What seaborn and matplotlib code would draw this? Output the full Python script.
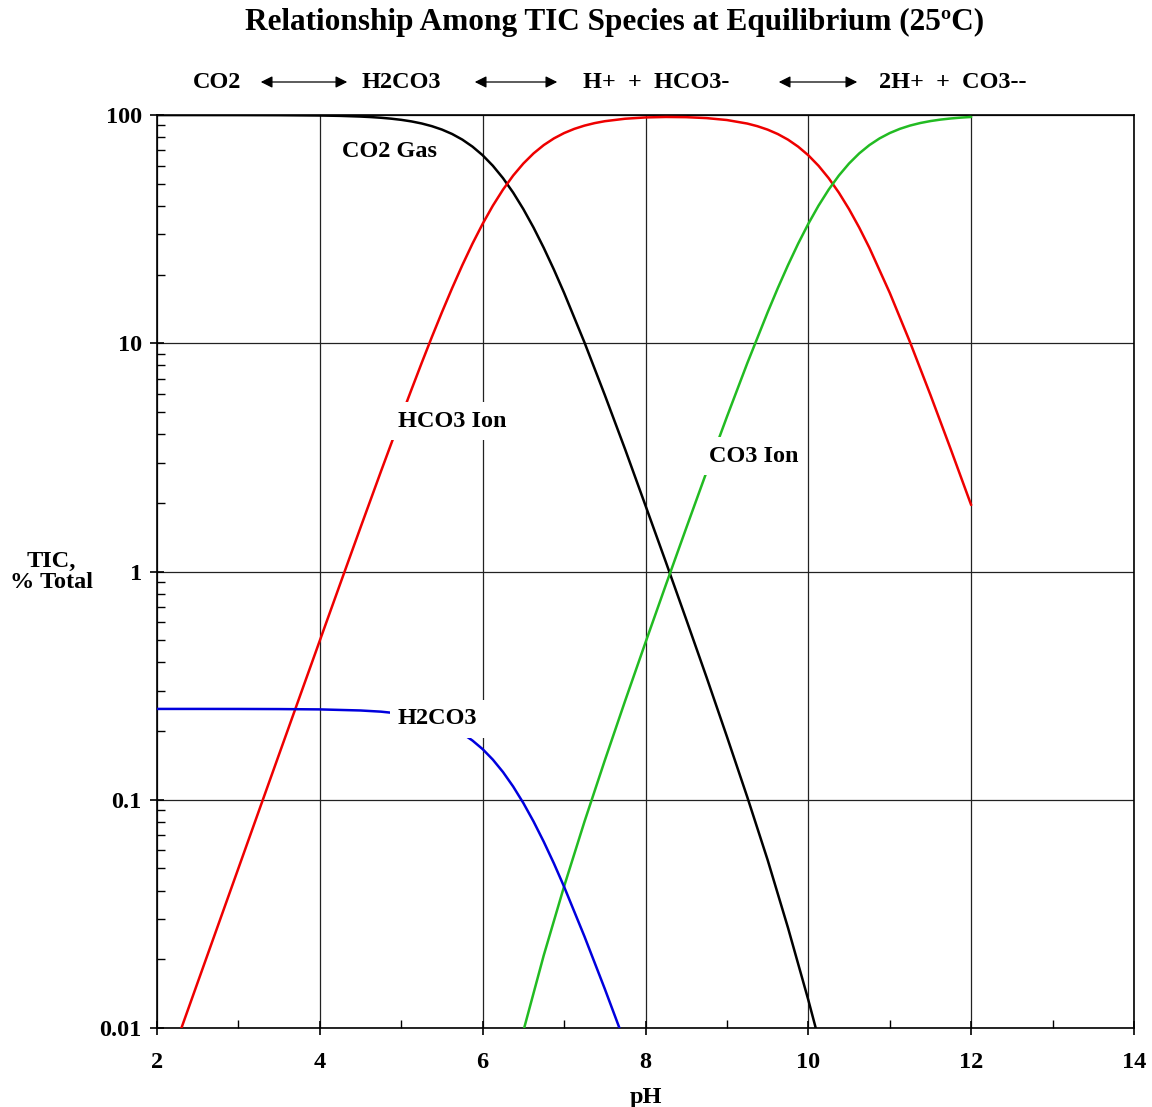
import numpy as np
import pandas as pd
import matplotlib
matplotlib.use("Agg")
import matplotlib.pyplot as plt
import matplotlib.ticker as mticker
import seaborn as sns

# ---- data ----
ph_co2 = [2.0, 2.5, 3.0, 3.5, 4.0, 4.25, 4.5, 4.625, 4.75, 4.875, 5.0, 5.125, 5.25,
          5.375, 5.5, 5.625, 5.75, 5.875, 6.0, 6.125, 6.25, 6.375, 6.5, 6.625,
          6.75, 6.875, 7.0, 7.25, 7.5, 7.75, 8.0, 8.25, 8.5, 8.75, 9.0, 9.25, 9.5,
          9.75, 10.0, 10.1]
co2_gas = [99.99, 99.98, 99.95, 99.84, 99.5, 99.12, 98.44, 97.93, 97.26, 96.38,
           95.23, 93.74, 91.82, 89.37, 86.32, 82.56, 78.02, 72.68, 66.62, 59.94,
           52.88, 45.69, 38.68, 32.12, 26.19, 21.02, 16.63, 10.09, 5.934, 3.428,
           1.944, 1.100, 0.617, 0.344, 0.1891, 0.1028, 0.0545, 0.0275, 0.01326,
           0.00972]

ph_hco3 = [2.25, 2.5, 2.75, 3.0, 3.25, 3.5, 3.75, 4.0, 4.25, 4.5, 4.75, 5.0, 5.125,
           5.25, 5.375, 5.5, 5.625, 5.75, 5.875, 6.0, 6.125, 6.25, 6.375, 6.5,
           6.625, 6.75, 6.875, 7.0, 7.125, 7.25, 7.375, 7.5, 7.75, 8.0, 8.25, 8.5,
           8.75, 9.0, 9.25, 9.375, 9.5, 9.625, 9.75, 9.875, 10.0, 10.125, 10.25,
           10.375, 10.5, 10.625, 10.75, 11.0, 11.25, 11.5, 11.75, 12.0]
hco3_ion = [0.00891, 0.01585, 0.02818, 0.0501, 0.0891, 0.1583, 0.281, 0.4985,
            0.8831, 1.56, 2.741, 4.771, 6.26, 8.182, 10.63, 13.68, 17.44, 21.98,
            27.32, 33.38, 40.06, 47.12, 54.31, 61.31, 67.88, 73.81, 78.96, 83.33,
            86.93, 89.84, 92.14, 93.93, 96.31, 97.57, 98.03, 97.83, 96.92, 95.05,
            91.72, 89.31, 86.28, 82.52, 78.0, 72.66, 66.6, 59.93, 52.87, 45.69,
            38.69, 32.12, 26.19, 16.63, 10.09, 5.935, 3.427, 1.956]

ph_co3 = [6.5, 6.75, 7.0, 7.25, 7.5, 7.75, 8.0, 8.25, 8.5, 8.75, 9.0, 9.25, 9.5,
          9.625, 9.75, 9.875, 10.0, 10.125, 10.25, 10.375, 10.5, 10.625, 10.75,
          10.875, 11.0, 11.125, 11.25, 11.375, 11.5, 11.625, 11.75, 11.875, 12.0]
co3_ion = [0.00971, 0.0208, 0.0417, 0.0801, 0.1487, 0.2714, 0.4888, 0.8736, 1.549,
           2.731, 4.762, 8.174, 13.66, 17.44, 21.98, 27.32, 33.38, 40.06, 47.12,
           54.3, 61.31, 67.88, 73.81, 78.98, 83.36, 86.98, 89.91, 92.24, 94.06,
           95.48, 96.57, 97.41, 98.04]

ph_h2co3 = [2.0, 2.5, 3.0, 3.5, 4.0, 4.5, 4.75, 5.0, 5.125, 5.25, 5.375, 5.5,
            5.625, 5.75, 5.875, 6.0, 6.125, 6.25, 6.375, 6.5, 6.625, 6.75, 6.875,
            7.0, 7.25, 7.5, 7.75]
h2co3 = [0.25, 0.25, 0.2499, 0.2496, 0.2488, 0.2461, 0.2432, 0.2381, 0.2344,
         0.2296, 0.2234, 0.2158, 0.2064, 0.1951, 0.1817, 0.1666, 0.1499, 0.1322,
         0.1142, 0.0967, 0.0803, 0.0655, 0.0526, 0.0416, 0.0252, 0.01484, 0.00857]

series_names = ["CO2 Gas", "HCO3 Ion", "CO3 Ion", "H2CO3"]
series_colors = ["#000000", "#ee0000", "#22bb22", "#0000dd"]

x_ticks = [2, 4, 6, 8, 10, 12, 14]
y_ticks = [0.01, 0.1, 1, 10, 100]
y_tick_labels = ["0.01", "0.1", "1", "10", "100"]

frames = []
for name, xs, ys in zip(series_names,
                        [ph_co2, ph_hco3, ph_co3, ph_h2co3],
                        [co2_gas, hco3_ion, co3_ion, h2co3]):
    frames.append(pd.DataFrame({"pH": xs, "TIC": ys, "species": name}))
df = pd.concat(frames, ignore_index=True)

# ---- style ----
sns.set_style("ticks")
plt.rcParams["font.family"] = ["Liberation Serif", "DejaVu Serif"]
plt.rcParams["font.weight"] = "bold"
plt.rcParams["text.color"] = "black"
plt.rcParams["axes.labelcolor"] = "black"
plt.rcParams["xtick.color"] = "black"
plt.rcParams["ytick.color"] = "black"

FS = 17.5
W, H = 1152, 1107
fig = plt.figure(figsize=(W / 100, H / 100), dpi=100)
ax = fig.add_axes([157 / W, 1 - 1028 / H, (1134 - 157) / W, (1028 - 115) / H])

sns.lineplot(data=df, x="pH", y="TIC", hue="species", hue_order=series_names,
             palette=dict(zip(series_names, series_colors)), linewidth=1.8,
             estimator=None, sort=False, legend=False, ax=ax, zorder=3)

ax.set_yscale("log")
ax.set_xlim(2, 14)
ax.set_ylim(0.01, 100)
ax.set_xticks(x_ticks)
ax.set_xticklabels([str(t) for t in x_ticks])
ax.xaxis.set_minor_locator(mticker.FixedLocator([3, 5, 7, 9, 11, 13]))
ax.yaxis.set_major_locator(mticker.FixedLocator(y_ticks))
ax.yaxis.set_major_formatter(mticker.FixedFormatter(y_tick_labels))
ax.yaxis.set_minor_locator(mticker.LogLocator(base=10, subs=np.arange(2, 10)))
ax.yaxis.set_minor_formatter(mticker.NullFormatter())

ax.tick_params(axis="both", which="major", direction="inout", length=10, width=1.2,
               labelsize=FS, pad=6, colors="black")
ax.tick_params(axis="x", which="major", pad=12)
ax.tick_params(axis="both", which="minor", direction="in", length=6, width=1.0,
               colors="black")
for lab in ax.get_xticklabels() + ax.get_yticklabels():
    lab.set_fontweight("bold")

ax.grid(True, which="major", color="#222222", linewidth=0.9)
for s in ax.spines.values():
    s.set_visible(True)
    s.set_color("black")
    s.set_linewidth(1.2)

ax.set_xlabel("pH", fontsize=FS, fontweight="bold", labelpad=10, color="black")
ax.set_ylabel("")
fig.text(51 / W, 1 - 572 / H, "TIC,\n% Total", ha="center", va="center",
         fontsize=FS, fontweight="bold", linespacing=0.95, color="black")

# curve labels
def lbl(x, y, s, pad):
    ax.text(x, y, s, fontsize=FS, fontweight="bold", ha="left", va="center",
            color="black",
            bbox=dict(facecolor="white", edgecolor="none", pad=pad), zorder=5)

lbl(4.27, 69.5, "CO2 Gas", 2.5)
lbl(4.96, 4.56, "HCO3 Ion", 6)
lbl(8.78, 3.2, "CO3 Ion", 6)
lbl(4.96, 0.226, "H2CO3", 6)

# title and reaction line
fig.text(615 / W, 1 - 22 / H, "Relationship Among TIC Species at Equilibrium (25ºC)",
         ha="center", va="center", fontsize=22.5, fontweight="bold", color="black")
ry = 1 - 82 / H
for txt, cx in [("CO2", 217), ("H2CO3", 401), ("H+  +  HCO3-", 656),
                ("2H+  +  CO3--", 953)]:
    fig.text(cx / W, ry, txt, ha="center", va="center", fontsize=FS,
             fontweight="bold", color="black")
for x0, x1 in [(258, 350), (472, 560), (776, 860)]:
    fig.add_artist(matplotlib.patches.FancyArrowPatch(
        (x0 / W, ry), (x1 / W, ry), transform=fig.transFigure,
        arrowstyle="<|-|>,head_length=7,head_width=3.5", color="black",
        linewidth=0.9, mutation_scale=1))

fig.savefig("out.png", dpi=100, facecolor="white")
